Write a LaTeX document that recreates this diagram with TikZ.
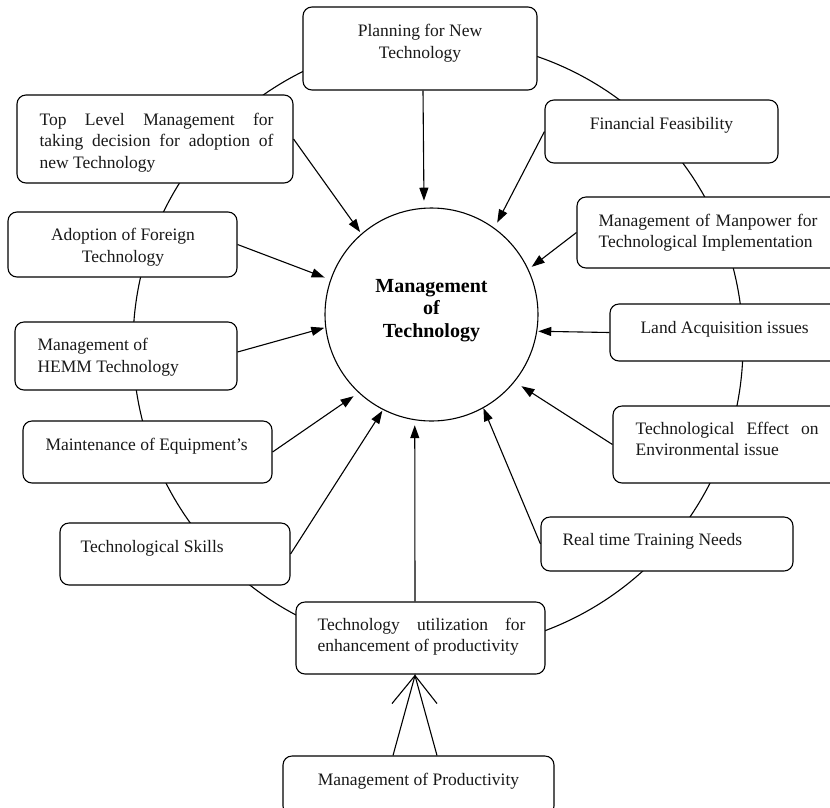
\documentclass[tikz,border=0pt]{standalone}
\usepackage{fontspec}
\setmainfont{Liberation Serif}
\usetikzlibrary{arrows.meta,calc}
\begin{document}
\begin{tikzpicture}[x=1pt,y=-1pt,
  line width=1.1pt,
  box/.style={draw,rounded corners=9pt,fill=white,inner sep=0pt},
  txt/.style={inner sep=0pt,font=\fontsize{17.5}{21.5}\selectfont,text=black!90},
  jtxt/.style={txt,anchor=base west,align=justify},
  ltxt/.style={txt,anchor=base west,align=left},
  ctxt/.style={txt,anchor=base,align=center},
  arr/.style={-{Triangle[length=13pt,width=9pt]},line width=1.1pt}]
\clip (0,0) rectangle (830,807);
\useasboundingbox (0,0) rectangle (830,807);
\fill[white] (0,0) rectangle (830,807);
% ring
\node[circle,draw,minimum size=610pt,inner sep=0pt] (ring) at (438,345) {};
% boxes
\node[box,minimum width=234pt,minimum height=83pt] (plan) at (420,48.5) {};
\node[box,minimum width=276pt,minimum height=88pt] (top) at (155,139) {};
\node[box,minimum width=229pt,minimum height=65pt] (adopt) at (122.5,244.5) {};
\node[box,minimum width=233pt,minimum height=63pt] (fin) at (661.5,131.5) {};
\node[box,minimum width=268pt,minimum height=71pt] (man) at (711,232.5) {};
\node[box,minimum width=222pt,minimum height=68pt] (hemm) at (126,356) {};
\node[box,minimum width=249pt,minimum height=62pt] (maint) at (147.5,452) {};
\node[box,minimum width=230pt,minimum height=62pt] (skills) at (175,554) {};
\node[box,minimum width=235pt,minimum height=57pt] (land) at (727.5,332.5) {};
\node[box,minimum width=232pt,minimum height=77pt] (env) at (729,444.5) {};
\node[box,minimum width=252pt,minimum height=54pt] (real) at (667,544) {};
\node[box,minimum width=249pt,minimum height=72pt] (util) at (420.5,638) {};
\node[box,minimum width=271pt,minimum height=59pt] (prod) at (418.5,785.5) {};
% centre
\node[circle,draw,fill=white,minimum size=213pt,inner sep=0pt] (mot) at (431.5,314.5) {};
\node[inner sep=0pt,anchor=base,align=center,font=\fontsize{20}{22.5}\selectfont\bfseries] (motT) at (431.5,337) {Management\\of\\Technology};
% texts
\node[ctxt] (planT) at (420,58) {Planning for New\\Technology};
\node[jtxt,text width=234pt] (topT) at (39,125) {Top Level Management for\linebreak taking decision for adoption of\linebreak new Technology};
\node[ctxt] (adoptT) at (123,262) {Adoption of Foreign\\Technology};
\node[ctxt] (finT) at (661.5,129) {Financial Feasibility};
\node[jtxt,text width=219pt] (manT) at (598,226) {Management of Manpower for\linebreak Technological Implementation};
\node[ltxt] (hemmT) at (37,372) {Management of\\HEMM Technology};
\node[ltxt] (maintT) at (45,450) {Maintenance of Equipment’s};
\node[ltxt] (skillsT) at (80,552) {Technological Skills};
\node[ltxt] (landT) at (640,333) {Land Acquisition issues};
\node[jtxt,text width=183pt] (envT) at (635,434) {Technological Effect on\linebreak Environmental issue};
\node[ltxt] (realT) at (562,545) {Real time Training Needs};
\node[jtxt,text width=208pt] (utilT) at (317,630) {Technology utilization for\linebreak enhancement of productivity};
\node[ctxt] (prodT) at (418.5,785) {Management of Productivity};
% arrows
\draw[arr,shorten >=7pt] ($(plan.south)+(3,0)$) -- (mot.94);
\draw[arr,shorten >=2pt] (top.east) -- (mot.131);
\draw[arr,shorten >=6pt] (fin.west) -- (mot.54);
\draw[arr,shorten >=4pt] (man.west) -- (mot.25);
\draw[arr,shorten >=6pt] (adopt.east) -- (mot.161);
\draw[arr,shorten >=1pt] ($(hemm.east)+(0,-4)$) -- (mot.187);
\draw[arr,shorten >=6pt] (maint.east) -- (mot.227);
\draw[arr,shorten >=1pt] (skills.east) -- (mot.243);
\draw[arr,shorten >=5pt] ($(util.north)+(-5.5,0)$) -- (mot.261.5);
\draw[arr,shorten >=1pt] (land.west) -- (mot.351);
\draw[arr,shorten >=8pt] (env.west) -- (mot.321);
\draw[arr] (real.west) -- (mot.299);
% productivity arrow
\coordinate (apex) at ($(util.south)+(-5.5,1)$);
\draw[line join=miter] ($(prod.north)+(-25.5,0)$) -- (apex) -- ($(prod.north)+(18.5,0)$);
\draw[line join=miter] ($(apex)+(-23,28)$) -- (apex) -- ($(apex)+(22,28)$);
\end{tikzpicture}
\end{document}
